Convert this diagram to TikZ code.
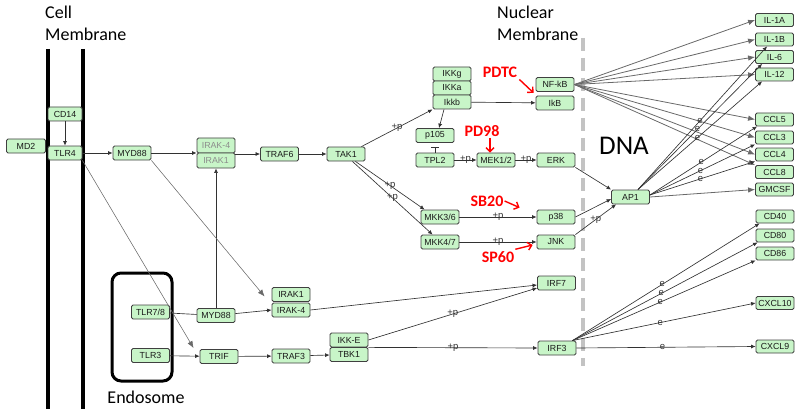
\documentclass[tikz,border=0pt]{standalone}
\usepackage{fontspec}
\setmainfont{Carlito}
\newfontfamily\genefont{Liberation Sans}
\usepackage{tikz}
\usetikzlibrary{arrows.meta,%
                positioning}

\definecolor{genefill}{RGB}{200,245,200}
\definecolor{limefill}{RGB}{228,255,160}
\definecolor{edgegray}{RGB}{50,50,50}
\definecolor{fangray}{RGB}{105,105,105}
\definecolor{dashgray}{RGB}{195,195,195}

\tikzset{
  gene/.style={draw=black!75, fill=genefill, rounded corners=1.5pt, line width=0.8pt,
    minimum width=38pt, minimum height=14pt, inner sep=0pt,
    font=\genefont\fontsize{8.8}{9}\selectfont, text=black!90},
  fadedgene/.style={gene, text=black!45},
  limegene/.style={gene, fill=limefill},
  outgene/.style={gene, minimum height=13pt},
  act/.style={draw=edgegray, line width=0.65pt, -{Latex[length=4.5pt,width=4pt]}},
  plainline/.style={draw=edgegray, line width=0.65pt},
  inhib/.style={draw=edgegray, line width=0.65pt, -{Bar[width=8pt]}, shorten >=4pt},
  fan/.style={draw=fangray, line width=0.8pt, -{Latex[length=7pt,width=5.5pt]}},
  longact/.style={draw=fangray, line width=0.55pt, -{Latex[length=7pt,width=5.5pt]}},
  plab/.style={font=\genefont\fontsize{9.5}{9.5}\selectfont, inner sep=0pt, text=edgegray},
  elab/.style={plab, pos=.48},
  drug/.style={font=\bfseries\fontsize{16}{16}\selectfont, text=red, inner sep=1pt},
  drugarr/.style={draw=red, line width=1.4pt, -{Straight Barb[length=4pt,width=8pt]}},
  membrane/.style={line width=3.5pt},
  comptitle/.style={font=\fontsize{18}{22}\selectfont, align=left, anchor=north west, inner sep=0pt}
}

\begin{document}
\begin{tikzpicture}[x=1pt,y=-1pt]
\useasboundingbox (0,0) rectangle (800,409);
% compartments
\draw[membrane] (48,49) -- (48,409);
\draw[membrane] (83,49) -- (83,409);
\draw[dashgray, line width=3.5pt, dash pattern=on 13pt off 7pt] (583,38) -- (583,366);
\draw[line width=3pt, rounded corners=9pt] (112,273) rectangle (172,381);
\node[comptitle] (cellmem) at (45,6) {Cell\\Membrane};
\node[comptitle] (nucmem) at (497,6) {Nuclear\\Membrane};
\node[font=\fontsize{27}{27}\selectfont] (dna) at (624,146) {DNA};
\node[font=\fontsize{18}{18}\selectfont] (endolab) at (146,397) {Endosome};
% receptors and upstream
\node[gene, minimum width=39pt] (md2) at (26,146) {MD2};
\node[gene, minimum width=34pt] (cd14) at (65,114) {CD14};
\node[gene, minimum width=34pt] (tlr4) at (65,153) {TLR4};
\node[gene] (myd88) at (132,153) {MYD88};
\node[fadedgene, minimum height=15pt] (irak4) at (216,145.5) {IRAK-4};
\node[fadedgene, minimum height=15pt] (irak1) at (216,160.5) {IRAK1};
\node[gene] (traf6) at (279.5,154) {TRAF6};
\node[gene] (tak1) at (346,154) {TAK1};
\node[gene] (ikkg) at (452,74) {IKKg};
\node[gene] (ikka) at (452,88) {IKKa};
\node[gene] (ikkb) at (452,102) {Ikkb};
\node[gene] (nfkb) at (555,84.5) {NF-kB};
\node[gene] (ikb) at (555,103) {IkB};
\node[gene] (p105) at (435,135.5) {p105};
\node[gene] (tpl2) at (435,160) {TPL2};
\node[gene] (mek) at (496,160) {MEK1/2};
\node[gene] (erk) at (556,160) {ERK};
\node[gene] (mkk36) at (440,217) {MKK3/6};
\node[gene] (mkk47) at (440,242) {MKK4/7};
\node[gene] (p38) at (556,217) {p38};
\node[gene] (jnk) at (556,242) {JNK};
\node[gene] (ap1) at (630.5,197) {AP1};
% endosome branch
\node[gene] (tlr78) at (150.5,312) {TLR7/8};
\node[gene] (tlr3) at (150.5,355.5) {TLR3};
\node[gene] (myd88b) at (216,315.5) {MYD88};
\node[gene] (trif) at (219,356.5) {TRIF};
\node[gene] (traf3) at (291,356) {TRAF3};
\node[gene] (irak1b) at (291,294.5) {IRAK1};
\node[gene] (irak4b) at (291,310) {IRAK-4};
\node[gene] (ikke) at (349,340) {IKK-E};
\node[gene] (tbk1) at (349,354.5) {TBK1};
\node[gene] (irf7) at (556.5,283) {IRF7};
\node[gene] (irf3) at (557,348) {IRF3};
% expressed genes
\node[limegene, outgene] (il1a) at (774.5,20) {IL-1A};
\node[outgene] (il1b) at (774.5,39.5) {IL-1B};
\node[outgene] (il6) at (774.5,57) {IL-6};
\node[outgene] (il12) at (774.5,74.5) {IL-12};
\node[outgene] (ccl5) at (774.5,119.5) {CCL5};
\node[outgene] (ccl3) at (774.5,137.5) {CCL3};
\node[outgene] (ccl4) at (774.5,154.5) {CCL4};
\node[limegene, outgene] (ccl8) at (774.5,172) {CCL8};
\node[limegene, outgene] (gmcsf) at (774.5,189.5) {GMCSF};
\node[outgene] (cd40) at (775,216.5) {CD40};
\node[outgene] (cd80) at (775,235.5) {CD80};
\node[outgene] (cd86) at (775,253.5) {CD86};
\node[outgene] (cxcl10) at (775,303) {CXCL10};
\node[outgene] (cxcl9) at (775,346.5) {CXCL9};
% inhibitors
\node[drug] (pdtc) at (500,72) {PDTC};
\node[drug] (pd98) at (482,131) {PD98};
\node[drug] (sb20) at (487,201) {SB20};
\node[drug] (sp60) at (498,257) {SP60};

% TLR4 / MYD88 path
\draw[act] (cd14) -- (tlr4);
\draw[act] (tlr4) -- (myd88);
\draw[act] (myd88) -- (myd88 -| irak4.west);
\draw[act] (irak4.east |- traf6) -- (traf6);
\draw[act] (traf6) -- (tak1);
\draw[act] ([xshift=-4pt]tak1.north east) -- node[plab]{+p} (ikkb.south west);
\draw[act] ([xshift=-10pt]tak1.south east) -- node[plab]{+p} ([xshift=4pt]mkk36.north west);
\draw[act] ([xshift=-13pt]tak1.south east) -- node[plab]{+p} ([xshift=12pt]mkk47.north west);
\draw[act] (ikkb) -- (ikb);
\draw[act] ([xshift=-8pt]ikkb.south) -- ([xshift=4pt]p105.north);
\draw[inhib] (tpl2) -- (p105);
\draw[act] (tpl2) -- node[plab]{+p} (mek);
\draw[act] (mek) -- node[plab]{+p} (erk);
\draw[act] (mkk36) -- node[plab]{+p} (p38);
\draw[act] (mkk47) -- node[plab]{+p} (jnk);
\draw[act] (erk.south east) -- (ap1.north west);
\draw[act] (p38.east) -- ([yshift=-2pt]ap1.west);
\draw[act] (jnk.north east) -- node[plab]{+p} ([xshift=5pt]ap1.south west);
% NF-kB targets
\foreach \tgt in {il1a,il1b,il6,il12,ccl5,ccl3,ccl4}
  \draw[fan] (nfkb.east) -- (\tgt.west);
\draw[fan] (nfkb.east) -- (ccl8.north west);
% AP1 targets
\draw[act] ([xshift=-12pt]ap1.north east) -- node[elab]{e} ([xshift=12pt]il1b.south west);
\draw[act] ([xshift=-12pt]ap1.north east) -- node[elab]{e} ([xshift=7pt]il6.south west);
\draw[act] ([xshift=-12pt]ap1.north east) -- node[elab]{e} ([xshift=7pt]il12.south west);
\draw[act] ([yshift=2pt]ap1.east) -- node[elab]{e} ([xshift=2pt]ccl5.south west);
\draw[act] ([yshift=2pt]ap1.east) -- node[elab]{e} (ccl3.south west);
\draw[act] ([yshift=2pt]ap1.east) -- node[elab]{e} (ccl4.south west);
\draw[fan] (ap1.east) -- (gmcsf.west);
% endosome path
\draw[plainline] (tlr78) -- (myd88b);
\draw[act] (myd88b) -- (irak4b.west);
\draw[act] (myd88b) -- (irak1);
\draw[act] (tlr3) -- (trif);
\draw[act] (trif) -- (traf3);
\draw[act] (traf3) -- (tbk1);
\draw[act] (irak4b.east) -- ([yshift=-2pt]irf7.west);
\draw[act] (ikke.east) -- node[plab]{+p} ([yshift=-5pt]irf7.west);
\draw[act] (ikke.south east) -- node[plab]{+p} (irf3.west);
\draw[longact] (tlr4.south east) -- ([xshift=-6pt,yshift=1pt]trif.north west);
\draw[longact] (myd88.south east) -- ([xshift=-7pt,yshift=-2pt]irak1b.west);
% IRF3 targets
\draw[act] ([xshift=-4pt]irf3.north east) -- node[elab]{e} ([xshift=4pt]cd40.south west);
\draw[act] ([xshift=-4pt]irf3.north east) -- node[elab]{e} ([xshift=2pt]cd80.south west);
\draw[act] ([xshift=-4pt]irf3.north east) -- node[elab]{e} (cd86.south west);
\draw[act] ([xshift=-4pt]irf3.north east) -- node[elab]{e} (cxcl10.west);
\draw[act] (irf3.east) -- node[elab]{e} (cxcl9.west);
% inhibitor arrows
\draw[drugarr] ([xshift=1pt,yshift=-1pt]pdtc.south east) -- ([xshift=-2pt,yshift=-1pt]nfkb.south west);
\draw[drugarr] ([xshift=-6pt]mek.north |- pd98.south) -- ([xshift=-6pt]mek.north);
\draw[drugarr] (sb20.east) -- ([xshift=-17pt,yshift=2pt]p38.north west);
\draw[drugarr] ([yshift=1pt]sp60.north east) -- ([xshift=-4pt,yshift=-3pt]jnk.west);
\end{tikzpicture}
\end{document}
